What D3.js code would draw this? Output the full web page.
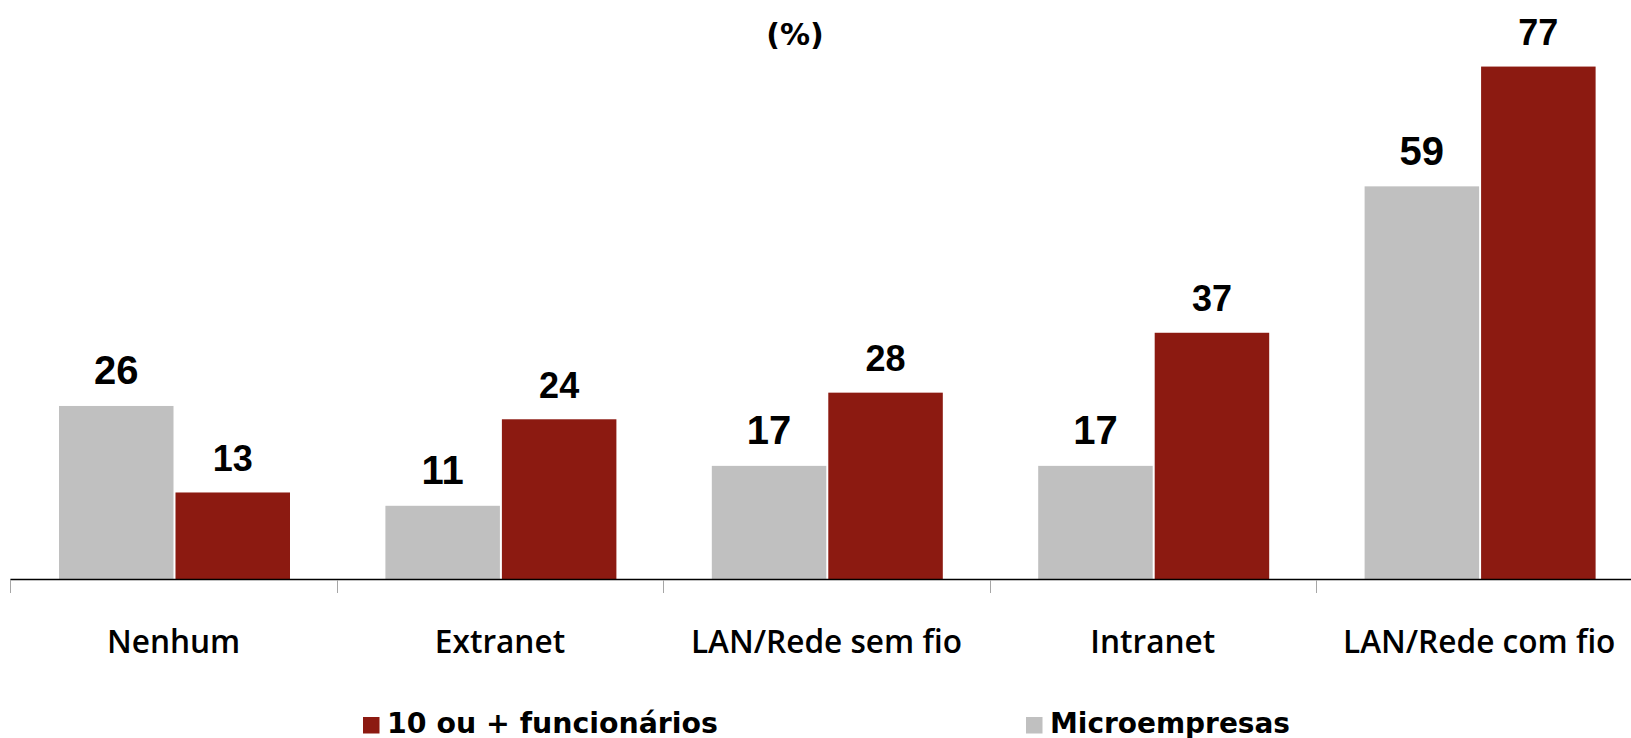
<!DOCTYPE html>
<html>
<head>
<meta charset="utf-8">
<script src="https://cdn.jsdelivr.net/npm/d3@7"></script>
<style>
  html, body { margin: 0; padding: 0; background: #fff; }
  svg { display: block; }
</style>
</head>
<body>
<svg id="chart" width="1631" height="738"></svg>
<script>
const categories = ["Nenhum", "Extranet", "LAN/Rede sem fio", "Intranet", "LAN/Rede com fio"];
const microempresas = [26, 11, 17, 17, 59];
const dezOuMais = [13, 24, 28, 37, 77];
const seriesKeys = ["micro", "dez"];
const seriesNames = { micro: "Microempresas", dez: "10 ou + funcionários" };
const colors = { micro: "#c0c0c0", dez: "#8c1a11" };
const title = "(%)";

const svg = d3.select("#chart");
const W = 1631, H = 738;
const axisY = 579;
const left = 10.4, catW = 326.4;

const x0 = d3.scaleBand().domain(categories)
  .range([left, left + catW * categories.length]).padding(0);
const x1 = d3.scaleBand().domain(seriesKeys)
  .range([48.6, 279.6]).paddingInner(0.017).paddingOuter(0);
const y = d3.scaleLinear().domain([0, 87]).range([axisY, axisY - 87 * 6.655]);

const rows = categories.map((c, i) => ({ cat: c, micro: microempresas[i], dez: dezOuMais[i] }));

const g = svg.append("g");
const groups = g.selectAll("g.cat").data(rows).join("g")
  .attr("class", "cat")
  .attr("transform", d => `translate(${x0(d.cat)},0)`);

groups.selectAll("rect").data(d => seriesKeys.map(k => ({ k, v: d[k] }))).join("rect")
  .attr("x", d => x1(d.k))
  .attr("width", x1.bandwidth())
  .attr("y", d => y(d.v))
  .attr("height", d => y(0) - y(d.v))
  .attr("fill", d => colors[d.k]);

groups.selectAll("text.val").data(d => seriesKeys.map(k => ({ k, v: d[k] }))).join("text")
  .attr("class", "val")
  .attr("x", d => x1(d.k) + x1.bandwidth() / 2)
  .attr("y", d => y(d.v) - 21.5)
  .attr("text-anchor", "middle")
  .attr("font-family", "'Liberation Sans', Arial, sans-serif")
  .attr("font-weight", "bold")
  .attr("font-size", d => d.k === "micro" ? 40 : 36)
  .attr("fill", "#000")
  .text(d => d.v);

// axis line
svg.append("line")
  .attr("x1", left).attr("x2", W)
  .attr("y1", axisY + 0.5).attr("y2", axisY + 0.5)
  .attr("stroke", "#000").attr("stroke-width", 1.6);

// tick marks at category boundaries
svg.selectAll("line.tick").data(categories).join("line")
  .attr("class", "tick")
  .attr("x1", d => Math.round(x0(d)) + 0.5).attr("x2", d => Math.round(x0(d)) + 0.5)
  .attr("y1", axisY + 1).attr("y2", axisY + 14)
  .attr("stroke", "#a6a6a6").attr("stroke-width", 1);

// category labels
svg.selectAll("text.cat").data(categories).join("text")
  .attr("class", "cat")
  .attr("x", d => x0(d) + x0.bandwidth() / 2)
  .attr("y", 653)
  .attr("text-anchor", "middle")
  .attr("font-family", "'Open Sans', sans-serif")
  .attr("font-weight", 600)
  .attr("font-size", 31.6)
  .attr("fill", "#000")
  .text(d => d);

// title
svg.append("text")
  .attr("x", 795).attr("y", 45)
  .attr("text-anchor", "middle")
  .attr("font-family", "'DejaVu Sans', sans-serif")
  .attr("font-weight", "bold")
  .attr("font-size", 30)
  .attr("fill", "#000")
  .text(title);

// legend
const legendItems = [
  { k: "dez", sx: 363, tx: 387, w: 331 },
  { k: "micro", sx: 1026, tx: 1050, w: 240 }
];
const lg = svg.selectAll("g.leg").data(legendItems).join("g").attr("class", "leg");
lg.append("rect")
  .attr("x", d => d.sx).attr("y", 717)
  .attr("width", 16.5).attr("height", 16.5)
  .attr("fill", d => colors[d.k]);
lg.append("text")
  .attr("x", d => d.tx).attr("y", 733.3)
  .attr("font-family", "'DejaVu Sans', sans-serif")
  .attr("font-weight", "bold")
  .attr("font-size", 28)
  .attr("textLength", d => d.w)
  .attr("lengthAdjust", "spacingAndGlyphs")
  .attr("fill", "#000")
  .text(d => seriesNames[d.k]);
</script>
</body>
</html>
